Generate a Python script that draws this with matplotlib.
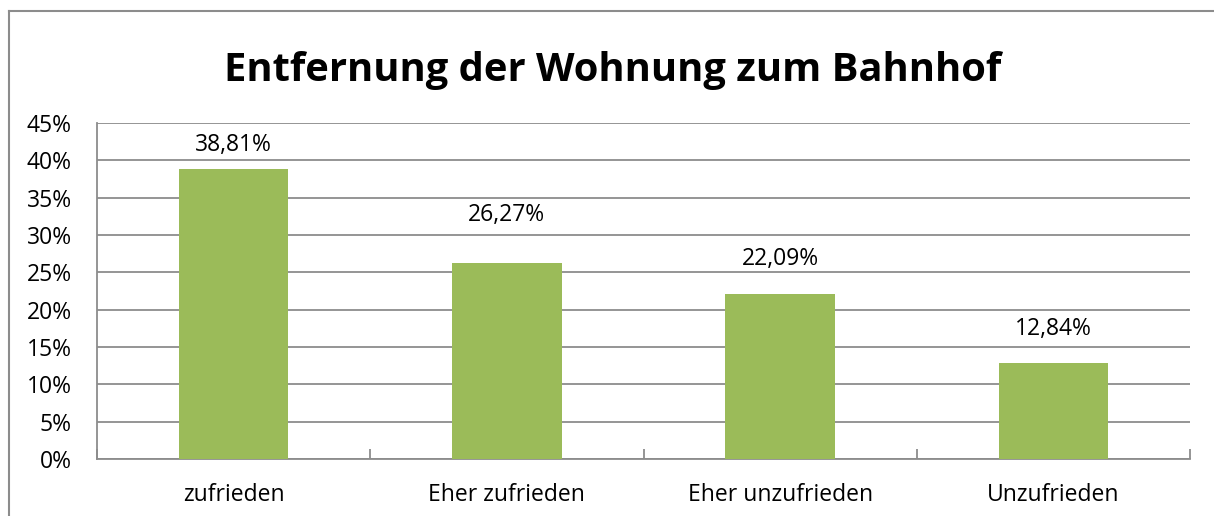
import matplotlib.pyplot as plt
from matplotlib.lines import Line2D

categories = ['zufrieden', 'Eher zufrieden', 'Eher unzufrieden', 'Unzufrieden']
values = [38.81, 26.27, 22.09, 12.84]
labels = ['38,81%', '26,27%', '22,09%', '12,84%']
yticks = [0, 5, 10, 15, 20, 25, 30, 35, 40, 45]

# data labels were placed by hand in the original, so each has its own gap (points)
label_gap = [8.6, 25.8, 16.5, 15.8]

plt.rcParams['font.family'] = ['Open Sans', 'DejaVu Sans']
grey = '#8c8c8c'

fig = plt.figure(figsize=(12.14, 5.16), dpi=100)
ax = fig.add_axes([97 / 1214, 1 - 459 / 516, (1190 - 97) / 1214, (459 - 123) / 516])

x = list(range(len(categories)))
ax.bar(x, values, width=0.4, color='#9bbb59', zorder=3)
for xi, v, lab, g in zip(x, values, labels, label_gap):
    ax.annotate(lab, (xi, v), xytext=(0, g), textcoords='offset points',
                ha='center', va='bottom', fontsize=16.5)

ax.set_xlim(-0.5, 3.5)
ax.set_ylim(0, 45)
ax.set_yticks(yticks)
ax.set_yticklabels([f'{t}%' for t in yticks], fontsize=16.5)
ax.yaxis.grid(True, color=grey, linewidth=1.3, zorder=0)
ax.tick_params(axis='y', length=0, pad=18)

ax.set_xticks(x)
ax.set_xticklabels(categories, fontsize=16.5)
ax.tick_params(axis='x', length=0, pad=17)
ax.set_xticks([-0.5, 0.5, 1.5, 2.5, 3.5], minor=True)
ax.tick_params(axis='x', which='minor', direction='in', length=7, color=grey, width=1.3)

for s in ['top', 'right']:
    ax.spines[s].set_visible(False)
for s in ['left', 'bottom']:
    ax.spines[s].set_color(grey)
    ax.spines[s].set_linewidth(1.3)

fig.text(613 / 1214, 1 - 70 / 516, 'Entfernung der Wohnung zum Bahnhof',
         ha='center', va='center', fontsize=28.7, fontweight='bold')

# outer chart frame
fig.add_artist(Line2D([9 / 1214, 9 / 1214], [0, 1 - 11 / 516], color=grey, linewidth=1.5))
fig.add_artist(Line2D([9 / 1214, 1], [1 - 11 / 516, 1 - 11 / 516], color=grey, linewidth=1.5))

fig.savefig('out.png', dpi=100)
